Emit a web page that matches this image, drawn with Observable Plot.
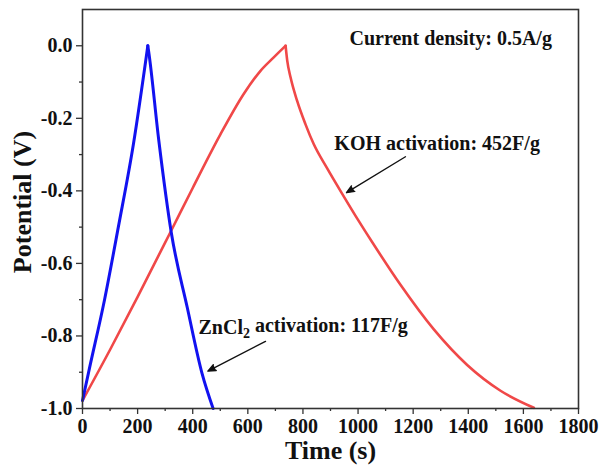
<!DOCTYPE html>
<html>
<head>
<meta charset="utf-8">
<script src="https://cdn.jsdelivr.net/npm/d3@7"></script>
<script src="https://cdn.jsdelivr.net/npm/@observablehq/plot@0.6"></script>
<style>
  html, body { margin: 0; padding: 0; background: white; }
</style>
</head>
<body>
<div id="chart"></div>
<script>
// ZnCl2 activation (blue): charge then discharge
const blueChargeTime = [0, 25, 80, 130, 185, 237];
const blueChargePot  = [-0.978, -0.89, -0.70, -0.50, -0.27, 0];
const blueDischargeTime = [237, 240, 277, 322, 380, 434, 474];
const blueDischargePot  = [0, -0.015, -0.262, -0.514, -0.721, -0.904, -1.0];
// KOH activation (red): charge then discharge
const redChargeTime = [0, 100, 200, 319, 400, 500, 585, 646, 694, 737];
const redChargePot  = [-0.978, -0.838, -0.692, -0.514, -0.392, -0.245, -0.133, -0.069, -0.032, 0];
const redDischargeTime = [737, 743, 755, 779, 809, 839, 888, 948, 1000, 1051, 1154, 1275, 1396, 1517, 1638];
const redDischargePot  = [0, -0.041, -0.087, -0.152, -0.216, -0.271, -0.338, -0.415, -0.480, -0.541, -0.659, -0.782, -0.880, -0.951, -0.998];

const xMajorTicks = [0, 200, 400, 600, 800, 1000, 1200, 1400, 1600, 1800];
const xMinorTicks = [100, 300, 500, 700, 900, 1100, 1300, 1500, 1700];
const yMajorTicks = [0, -0.2, -0.4, -0.6, -0.8, -1.0];
const yMinorTicks = [-0.1, -0.3, -0.5, -0.7, -0.9];
const xTickLabels = ["0", "200", "400", "600", "800", "1000", "1200", "1400", "1600", "1800"];
const yTickLabels = ["0.0", "-0.2", "-0.4", "-0.6", "-0.8", "-1.0"];

const annoText = ["Current density: 0.5A/g", "KOH activation: 452F/g", "ZnCl2 activation: 117F/g"];
const annoTime = [969, 914, 421];
const annoPot  = [0.020, -0.271, -0.776];

const arrowTime1 = [1172, 664];
const arrowPot1  = [-0.306, -0.815];
const arrowTime2 = [958, 455];
const arrowPot2  = [-0.405, -0.897];

const xLabel = "Time (s)";
const yLabel = "Potential (V)";

const seg = (ts, vs) => ts.map((t, i) => ({t, v: vs[i]}));
const blueC = seg(blueChargeTime, blueChargePot);
const blueD = seg(blueDischargeTime, blueDischargePot);
const redC = seg(redChargeTime, redChargePot);
const redD = seg(redDischargeTime, redDischargePot);
const xLab = xMajorTicks.map((t, i) => ({t, s: xTickLabels[i]}));
const yLab = yMajorTicks.map((v, i) => ({v, s: yTickLabels[i]}));
const annos = annoText.map((s, i) => ({s, t: annoTime[i], v: annoPot[i]}));
const arrows = arrowTime1.map((t, i) => ({t1: t, v1: arrowPot1[i], t2: arrowTime2[i], v2: arrowPot2[i]}));

const RED = "#f04848", BLUE = "#1212f0";
const FONT = "'Liberation Serif', 'Times New Roman', serif";

const chart = Plot.plot({
  width: 603,
  height: 470,
  marginLeft: 82,
  marginRight: 25,
  marginTop: 9,
  marginBottom: 62,
  x: {domain: [0, 1800]},
  y: {domain: [-1, 0.1]},
  style: {
    fontFamily: FONT,
    fontWeight: "bold",
    fontSize: "20px",
    color: "#111",
    background: "white"
  },
  marks: [
    Plot.line(redC, {x: "t", y: "v", stroke: RED, strokeWidth: 2.6, curve: "monotone-x"}),
    Plot.line(redD, {x: "t", y: "v", stroke: RED, strokeWidth: 2.6, curve: "monotone-x"}),
    Plot.line(blueC, {x: "t", y: "v", stroke: BLUE, strokeWidth: 3, curve: "monotone-x"}),
    Plot.line(blueD, {x: "t", y: "v", stroke: BLUE, strokeWidth: 3, curve: "monotone-x"}),
    Plot.axisX({ticks: xMajorTicks, tickSize: 6, tickFormat: () => "", label: null, strokeWidth: 1.3, stroke: "#333"}),
    Plot.axisX({ticks: xMinorTicks, tickSize: 3, tickFormat: () => "", label: null, strokeWidth: 1.3, stroke: "#333"}),
    Plot.axisY({ticks: yMajorTicks, tickSize: 6, tickFormat: () => "", label: null, strokeWidth: 1.3, stroke: "#333"}),
    Plot.axisY({ticks: yMinorTicks, tickSize: 3, tickFormat: () => "", label: null, strokeWidth: 1.3, stroke: "#333"}),
    Plot.frame({stroke: "#333", strokeWidth: 1.6}),
    Plot.text(xLab, {x: "t", text: "s", frameAnchor: "bottom", lineAnchor: "top", dy: 10, fontSize: 20, fontWeight: "bold"}),
    Plot.text(yLab, {y: "v", text: "s", frameAnchor: "left", textAnchor: "end", lineAnchor: "middle", dx: -10, fontSize: 20, fontWeight: "bold"}),
    Plot.text([xLabel], {text: d => d, frameAnchor: "bottom", lineAnchor: "middle", dy: 42, fontSize: 26, fontWeight: "bold"}),
    Plot.text([yLabel], {text: d => d, frameAnchor: "left", textAnchor: "middle", lineAnchor: "middle", rotate: -90, dx: -60, dy: -7, fontSize: 26, fontWeight: "bold"}),
    Plot.text(annos, {x: "t", y: "v", text: "s", textAnchor: "start", fontSize: 20, fontWeight: "bold"}),
    Plot.arrow(arrows, {x1: "t1", y1: "v1", x2: "t2", y2: "v2", stroke: "#111", fill: "#111", strokeWidth: 1.4, headLength: 9, headAngle: 45})
  ]
});

// subscript for ZnCl2
d3.select(chart).selectAll("text").each(function() {
  if (this.textContent === "ZnCl2 activation: 117F/g") {
    const el = d3.select(this);
    el.text(null);
    el.append("tspan").text("ZnCl");
    el.append("tspan").attr("dy", "0.3em").attr("font-size", "14").text("2");
    el.append("tspan").attr("dy", "-0.3em").text(" activation: 117F/g");
  }
});

document.getElementById("chart").appendChild(chart);
</script>
</body>
</html>
